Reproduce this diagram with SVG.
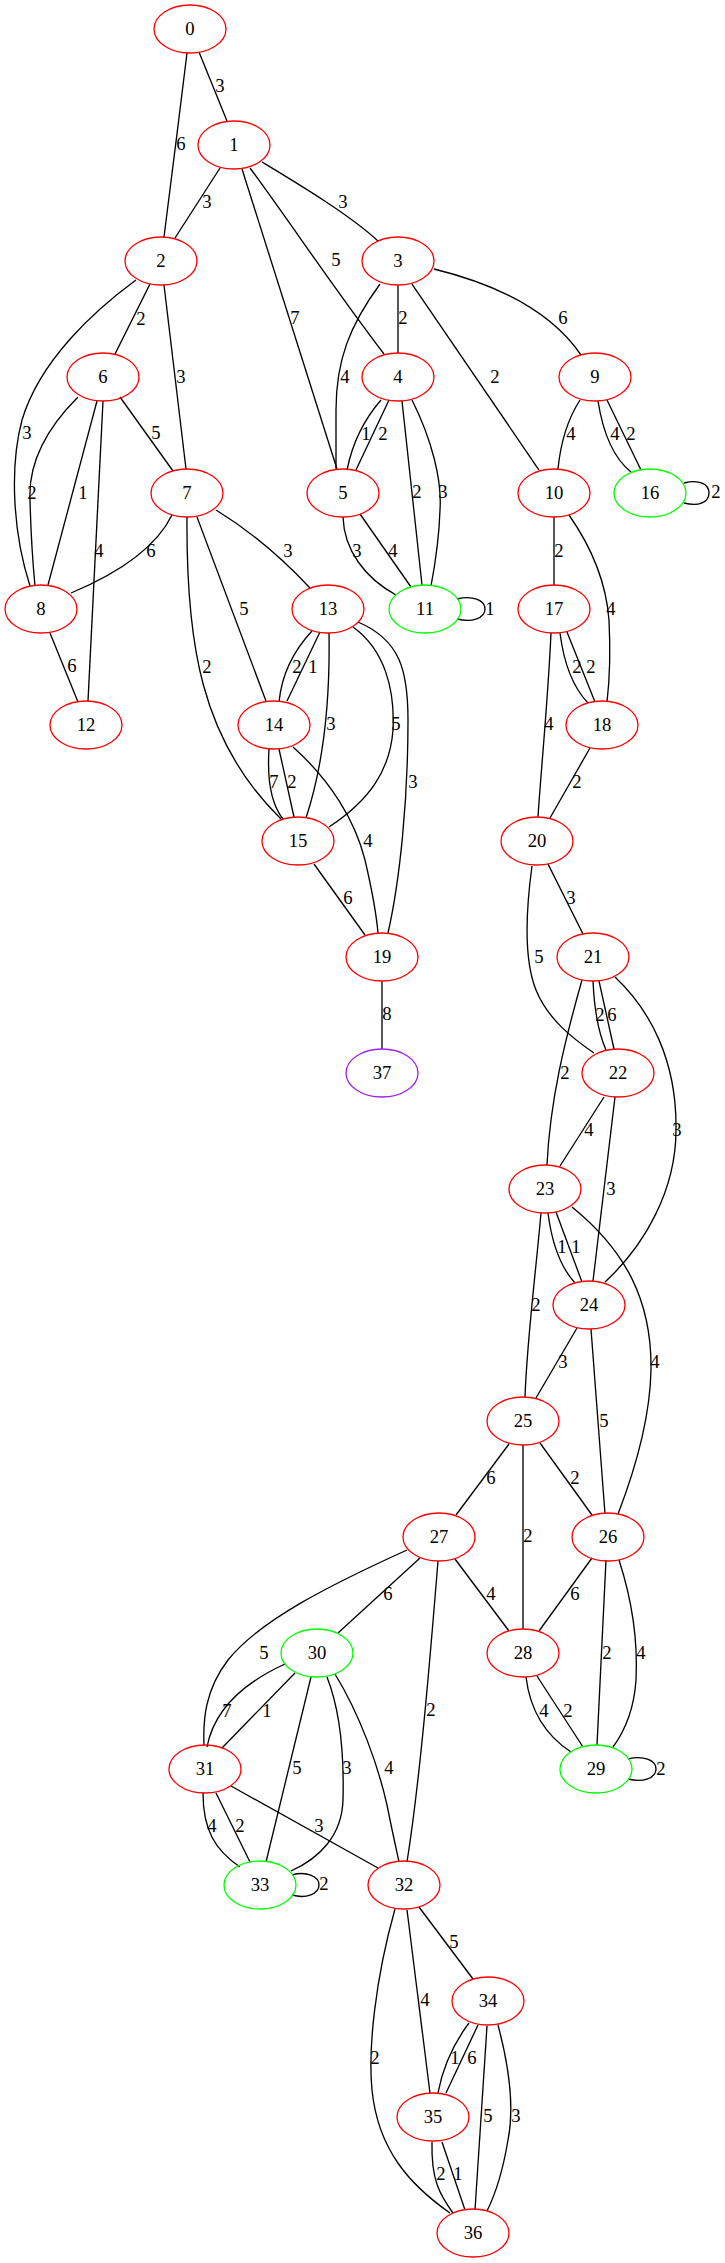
<svg xmlns="http://www.w3.org/2000/svg" width="725" height="2263" viewBox="0 0 725 2263">
<style>
.e path{fill:none;stroke:#000;stroke-width:1.33}
.n ellipse{fill:none;stroke:#ff0000;stroke-width:1.33}
.n.g ellipse{stroke:#00ff00}
.n.p ellipse{stroke:#a020f0}
text{font-family:"Liberation Serif","Times New Roman",serif;font-size:18.67px;text-anchor:middle;fill:#000}
</style>
<rect width="725" height="2263" fill="#fff"/>
<g id="edges" class="e">
<path d="M199,52 L227,121"/>
<path d="M187,53 C180,110 170,190 164,237"/>
<path d="M220,168 L175,238"/>
<path d="M262,162 C300,185 350,215 378,241"/>
<path d="M242,169 L337,469"/>
<path d="M250,168 C290,222 335,290 384,354"/>
<path d="M150,284 L115,354"/>
<path d="M164,285 L186,469"/>
<path d="M136,280 C95,310 40,360 22,420 C10,465 12,530 30,586"/>
<path d="M78,397 C50,425 28,460 30,500 C31,540 33,565 35,586"/>
<path d="M97,401 L48,585"/>
<path d="M103,401 L88,701"/>
<path d="M120,397 L173,471"/>
<path d="M172,515 Q150,560 71,593"/>
<path d="M216,510 Q265,540 310,588"/>
<path d="M197,517 L266,701"/>
<path d="M187,517 C186,640 200,740 281,819"/>
<path d="M398,285 L398,353"/>
<path d="M380,284 C350,325 336,360 336,410 C336,440 336,455 336,469"/>
<path d="M412,284 L539,470"/>
<path d="M434,269 Q540,295 581,355"/>
<path d="M381,400 Q355,430 347,470"/>
<path d="M389,400 L356,470"/>
<path d="M402,401 L422,585"/>
<path d="M412,400 C432,440 442,480 440,510 C439,540 435,565 431,586"/>
<path d="M343,517 C344,550 365,578 396,595"/>
<path d="M360,514 L411,587"/>
<path d="M457,599 C472,595 485,600 485,609 C485,618 472,623 457,619"/>
<path d="M580,400 Q562,428 558,469"/>
<path d="M598,401 Q606,452 631,472"/>
<path d="M607,400 L641,470"/>
<path d="M684,483 C699,479 709,484 709,493 C709,502 699,507 684,503"/>
<path d="M554,517 L554,585"/>
<path d="M569,515 C590,545 606,580 609,620 C611,660 609,685 607,702"/>
<path d="M312,631 Q283,662 279,702"/>
<path d="M320,632 L287,701"/>
<path d="M329,633 C330,690 325,760 306,818"/>
<path d="M353,627 C385,650 395,690 393,730 C390,770 370,800 329,827"/>
<path d="M358,622 C400,640 408,670 408,720 C408,800 400,880 388,933"/>
<path d="M269,749 C267,780 272,805 283,819"/>
<path d="M279,749 L294,817"/>
<path d="M293,747 C330,780 355,820 365,860 C372,890 376,910 378,933"/>
<path d="M314,864 L365,935"/>
<path d="M560,633 Q566,680 588,703"/>
<path d="M567,632 L595,702"/>
<path d="M551,633 C548,700 541,770 538,817"/>
<path d="M590,748 L550,818"/>
<path d="M548,864 L583,934"/>
<path d="M532,866 C526,910 524,960 536,990 C548,1020 575,1040 594,1053"/>
<path d="M593,981 Q595,1025 606,1050"/>
<path d="M599,981 L614,1049"/>
<path d="M582,980 C565,1040 550,1100 547,1165"/>
<path d="M615,977 C650,1010 677,1060 676,1130 C676,1190 645,1245 605,1282"/>
<path d="M604,1097 L560,1166"/>
<path d="M615,1097 L593,1281"/>
<path d="M548,1213 Q554,1260 575,1283"/>
<path d="M556,1212 L582,1282"/>
<path d="M541,1213 C535,1280 527,1340 525,1397"/>
<path d="M572,1207 C625,1250 652,1300 651,1370 C650,1420 635,1470 618,1514"/>
<path d="M577,1328 L536,1398"/>
<path d="M591,1329 L605,1514"/>
<path d="M509,1444 L456,1515"/>
<path d="M523,1445 L523,1629"/>
<path d="M540,1443 L592,1515"/>
<path d="M420,1558 L338,1633"/>
<path d="M407,1550 C330,1585 260,1620 228,1660 C205,1690 203,1720 204,1745"/>
<path d="M438,1561 C430,1660 420,1780 407,1862"/>
<path d="M455,1559 L509,1631"/>
<path d="M592,1558 L539,1631"/>
<path d="M606,1560 L597,1745"/>
<path d="M619,1560 C632,1600 638,1640 636,1680 C634,1710 624,1732 613,1747"/>
<path d="M526,1677 C530,1710 545,1735 571,1752"/>
<path d="M537,1676 L583,1747"/>
<path d="M628,1759 C643,1755 656,1760 656,1769 C656,1778 643,1783 628,1779"/>
<path d="M285,1664 C250,1680 215,1705 207,1747"/>
<path d="M295,1673 L222,1748"/>
<path d="M311,1677 L266,1862"/>
<path d="M327,1677 C342,1715 344,1760 343,1800 C342,1835 320,1858 291,1871"/>
<path d="M335,1674 C360,1715 378,1765 387,1805 C392,1830 396,1848 399,1862"/>
<path d="M203,1793 C203,1830 215,1850 240,1867"/>
<path d="M216,1793 L250,1862"/>
<path d="M231,1786 L378,1868"/>
<path d="M292,1875 C306,1871 319,1876 319,1885 C319,1894 306,1899 292,1895"/>
<path d="M419,1907 L473,1979"/>
<path d="M407,1910 L430,2093"/>
<path d="M395,1909 C375,1980 368,2050 372,2090 C378,2150 410,2185 450,2213"/>
<path d="M469,2023 Q445,2055 438,2093"/>
<path d="M478,2025 L446,2093"/>
<path d="M487,2026 L475,2210"/>
<path d="M498,2025 C510,2070 514,2110 508,2140 C503,2170 495,2195 487,2211"/>
<path d="M432,2142 C431,2180 440,2195 453,2213"/>
<path d="M442,2142 L465,2210"/>
<path d="M382,981 L382,1049"/>
<path d="M50,633 L78,702"/>
</g>
<g id="edge-labels">
<text x="220" y="92">3</text>
<text x="181" y="150">6</text>
<text x="207" y="208">3</text>
<text x="343" y="208">3</text>
<text x="295" y="324">7</text>
<text x="336" y="266">5</text>
<text x="141" y="325">2</text>
<text x="181" y="383">3</text>
<text x="27" y="439">3</text>
<text x="32" y="499">2</text>
<text x="83" y="499">1</text>
<text x="99" y="557">4</text>
<text x="156" y="439">5</text>
<text x="151" y="557">6</text>
<text x="288" y="557">3</text>
<text x="244" y="615">5</text>
<text x="207" y="673">2</text>
<text x="403" y="324">2</text>
<text x="345" y="383">4</text>
<text x="495" y="383">2</text>
<text x="563" y="324">6</text>
<text x="366" y="440">1</text>
<text x="383" y="440">2</text>
<text x="417" y="498">2</text>
<text x="443" y="498">3</text>
<text x="357" y="557">3</text>
<text x="393" y="557">4</text>
<text x="490" y="615">1</text>
<text x="571" y="440">4</text>
<text x="615" y="440">4</text>
<text x="631" y="440">2</text>
<text x="716" y="498">2</text>
<text x="559" y="557">2</text>
<text x="611" y="615">4</text>
<text x="297" y="673">2</text>
<text x="313" y="673">1</text>
<text x="331" y="730">3</text>
<text x="396" y="730">5</text>
<text x="413" y="788">3</text>
<text x="274" y="788">7</text>
<text x="292" y="788">2</text>
<text x="368" y="847">4</text>
<text x="348" y="904">6</text>
<text x="577" y="673">2</text>
<text x="591" y="673">2</text>
<text x="549" y="730">4</text>
<text x="577" y="788">2</text>
<text x="571" y="904">3</text>
<text x="539" y="963">5</text>
<text x="600" y="1021">2</text>
<text x="612" y="1021">6</text>
<text x="565" y="1079">2</text>
<text x="677" y="1136">3</text>
<text x="589" y="1136">4</text>
<text x="611" y="1195">3</text>
<text x="562" y="1253">1</text>
<text x="576" y="1253">1</text>
<text x="536" y="1311">2</text>
<text x="655" y="1368">4</text>
<text x="563" y="1368">3</text>
<text x="604" y="1427">5</text>
<text x="491" y="1484">6</text>
<text x="528" y="1542">2</text>
<text x="575" y="1484">2</text>
<text x="388" y="1600">6</text>
<text x="264" y="1659">5</text>
<text x="431" y="1716">2</text>
<text x="491" y="1600">4</text>
<text x="575" y="1600">6</text>
<text x="607" y="1659">2</text>
<text x="641" y="1659">4</text>
<text x="544" y="1717">4</text>
<text x="568" y="1717">2</text>
<text x="661" y="1775">2</text>
<text x="227" y="1717">7</text>
<text x="267" y="1717">1</text>
<text x="297" y="1774">5</text>
<text x="347" y="1774">3</text>
<text x="389" y="1774">4</text>
<text x="212" y="1832">4</text>
<text x="240" y="1832">2</text>
<text x="319" y="1832">3</text>
<text x="324" y="1890">2</text>
<text x="454" y="1948">5</text>
<text x="425" y="2006">4</text>
<text x="375" y="2064">2</text>
<text x="455" y="2064">1</text>
<text x="472" y="2064">6</text>
<text x="488" y="2122">5</text>
<text x="516" y="2122">3</text>
<text x="441" y="2180">2</text>
<text x="458" y="2180">1</text>
<text x="387" y="1020">8</text>
<text x="72" y="672">6</text>
</g>
<g id="node0" class="n"><ellipse cx="190" cy="29" rx="36" ry="24"/><text x="190" y="35">0</text></g>
<g id="node1" class="n"><ellipse cx="234" cy="145" rx="36" ry="24"/><text x="234" y="151">1</text></g>
<g id="node2" class="n"><ellipse cx="161" cy="261" rx="36" ry="24"/><text x="161" y="267">2</text></g>
<g id="node3" class="n"><ellipse cx="398" cy="261" rx="36" ry="24"/><text x="398" y="267">3</text></g>
<g id="node4" class="n"><ellipse cx="398" cy="377" rx="36" ry="24"/><text x="398" y="383">4</text></g>
<g id="node5" class="n"><ellipse cx="343" cy="493" rx="36" ry="24"/><text x="343" y="499">5</text></g>
<g id="node6" class="n"><ellipse cx="103" cy="377" rx="36" ry="24"/><text x="103" y="383">6</text></g>
<g id="node7" class="n"><ellipse cx="187" cy="493" rx="36" ry="24"/><text x="187" y="499">7</text></g>
<g id="node8" class="n"><ellipse cx="41" cy="609" rx="36" ry="24"/><text x="41" y="615">8</text></g>
<g id="node9" class="n"><ellipse cx="595" cy="377" rx="36" ry="24"/><text x="595" y="383">9</text></g>
<g id="node10" class="n"><ellipse cx="554" cy="493" rx="36" ry="24"/><text x="554" y="499">10</text></g>
<g id="node11" class="n g"><ellipse cx="425" cy="609" rx="36" ry="24"/><text x="425" y="615">11</text></g>
<g id="node12" class="n"><ellipse cx="86" cy="725" rx="36" ry="24"/><text x="86" y="731">12</text></g>
<g id="node13" class="n"><ellipse cx="328" cy="609" rx="36" ry="24"/><text x="328" y="615">13</text></g>
<g id="node14" class="n"><ellipse cx="274" cy="725" rx="36" ry="24"/><text x="274" y="731">14</text></g>
<g id="node15" class="n"><ellipse cx="298" cy="841" rx="36" ry="24"/><text x="298" y="847">15</text></g>
<g id="node16" class="n g"><ellipse cx="650" cy="493" rx="36" ry="24"/><text x="650" y="499">16</text></g>
<g id="node17" class="n"><ellipse cx="554" cy="609" rx="36" ry="24"/><text x="554" y="615">17</text></g>
<g id="node18" class="n"><ellipse cx="602" cy="725" rx="36" ry="24"/><text x="602" y="731">18</text></g>
<g id="node19" class="n"><ellipse cx="382" cy="957" rx="36" ry="24"/><text x="382" y="963">19</text></g>
<g id="node20" class="n"><ellipse cx="537" cy="841" rx="36" ry="24"/><text x="537" y="847">20</text></g>
<g id="node21" class="n"><ellipse cx="593" cy="957" rx="36" ry="24"/><text x="593" y="963">21</text></g>
<g id="node22" class="n"><ellipse cx="618" cy="1073" rx="36" ry="24"/><text x="618" y="1079">22</text></g>
<g id="node23" class="n"><ellipse cx="545" cy="1189" rx="36" ry="24"/><text x="545" y="1195">23</text></g>
<g id="node24" class="n"><ellipse cx="589" cy="1305" rx="36" ry="24"/><text x="589" y="1311">24</text></g>
<g id="node25" class="n"><ellipse cx="523" cy="1421" rx="36" ry="24"/><text x="523" y="1427">25</text></g>
<g id="node26" class="n"><ellipse cx="608" cy="1537" rx="36" ry="24"/><text x="608" y="1543">26</text></g>
<g id="node27" class="n"><ellipse cx="439" cy="1537" rx="36" ry="24"/><text x="439" y="1543">27</text></g>
<g id="node28" class="n"><ellipse cx="523" cy="1653" rx="36" ry="24"/><text x="523" y="1659">28</text></g>
<g id="node29" class="n g"><ellipse cx="596" cy="1769" rx="36" ry="24"/><text x="596" y="1775">29</text></g>
<g id="node30" class="n g"><ellipse cx="317" cy="1653" rx="36" ry="24"/><text x="317" y="1659">30</text></g>
<g id="node31" class="n"><ellipse cx="205" cy="1769" rx="36" ry="24"/><text x="205" y="1775">31</text></g>
<g id="node32" class="n"><ellipse cx="404" cy="1885" rx="36" ry="24"/><text x="404" y="1891">32</text></g>
<g id="node33" class="n g"><ellipse cx="260" cy="1885" rx="36" ry="24"/><text x="260" y="1891">33</text></g>
<g id="node34" class="n"><ellipse cx="488" cy="2001" rx="36" ry="24"/><text x="488" y="2007">34</text></g>
<g id="node35" class="n"><ellipse cx="433" cy="2117" rx="36" ry="24"/><text x="433" y="2123">35</text></g>
<g id="node36" class="n"><ellipse cx="473" cy="2233" rx="36" ry="24"/><text x="473" y="2239">36</text></g>
<g id="node37" class="n p"><ellipse cx="382" cy="1073" rx="36" ry="24"/><text x="382" y="1079">37</text></g>
</svg>
